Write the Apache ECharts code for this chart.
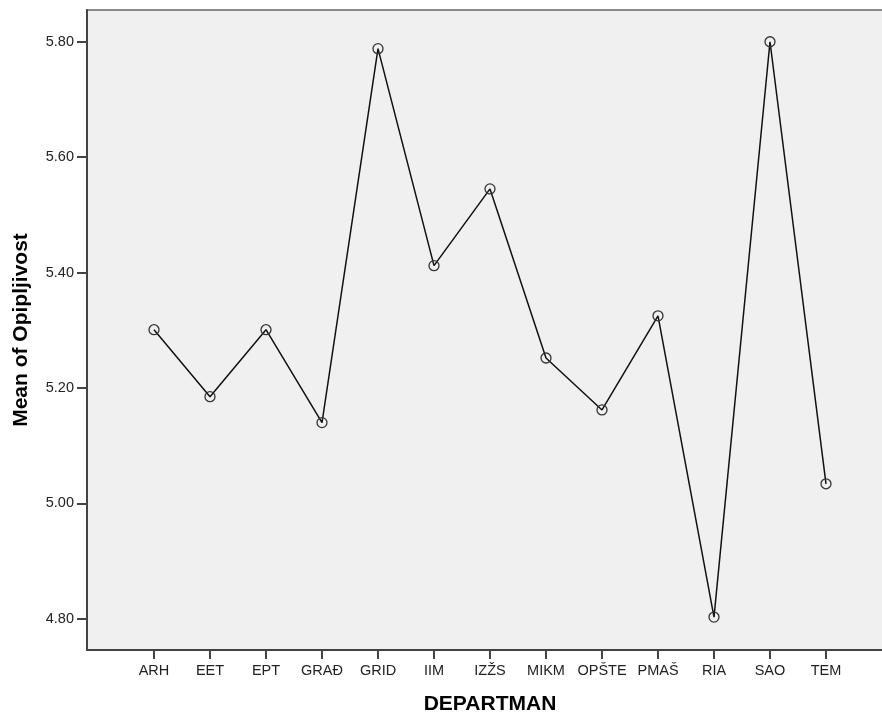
<!DOCTYPE html>
<html>
<head>
<meta charset="utf-8">
<script src="https://cdn.jsdelivr.net/npm/echarts@6/dist/echarts.min.js"></script>
<style>
  html, body { margin: 0; padding: 0; background: #ffffff; }
  #chart { width: 882px; height: 718px; }
</style>
</head>
<body>
<div id="chart"></div>
<script>
// Department codes along the x axis
const departments = ['ARH', 'EET', 'EPT', 'GRAĐ', 'GRID', 'IIM', 'IZŽS', 'MIKM', 'OPŠTE', 'PMAŠ', 'RIA', 'SAO', 'TEM'];
// Mean of Opipljivost per department
const meanValues = [5.301, 5.185, 5.301, 5.140, 5.788, 5.412, 5.545, 5.252, 5.162, 5.325, 4.803, 5.800, 5.034];
// Y tick values
const yTicks = [4.80, 5.00, 5.20, 5.40, 5.60, 5.80];

const xIdx = departments.map((_, i) => i);
const seriesData = meanValues.map((v, i) => [i, v]);

// plot box geometry: categories are 56px apart, first one 67px in from the left edge
const gridLeft = 87, gridRight = -3;
const plotWidth = 882 - gridLeft - gridRight;
const xMin = -67 / 56;
const xMax = xMin + plotWidth / 56;

const chart = echarts.init(document.getElementById('chart'), null, { renderer: 'canvas' });
const font = '"Liberation Sans", Arial, sans-serif';

chart.setOption({
  animation: false,
  grid: {
    left: gridLeft, top: 10, right: gridRight, bottom: 68,
    outerBoundsMode: 'none',
    containLabel: false,
    show: true, backgroundColor: '#f0f0f0', borderColor: '#8a8a8a', borderWidth: 2
  },
  xAxis: {
    type: 'value',
    min: xMin, max: xMax,
    name: 'DEPARTMAN',
    nameLocation: 'middle',
    nameGap: 44,
    nameTextStyle: { fontFamily: font, fontSize: 21, fontWeight: 'bold', color: '#000', padding: [0, 0, 0, 8] },
    splitLine: { show: false },
    axisLine: { show: true, onZero: false, lineStyle: { color: '#444', width: 2 } },
    axisTick: { show: true, customValues: xIdx, length: 9, lineStyle: { color: '#444', width: 2 } },
    axisLabel: {
      customValues: xIdx, margin: 13,
      fontFamily: font, fontSize: 14.5, color: '#222',
      formatter: v => departments[Math.round(v)]
    }
  },
  yAxis: {
    type: 'value',
    min: 4.746, max: 5.855,
    name: 'Mean of Opipljivost',
    nameLocation: 'middle',
    nameGap: 55,
    nameTextStyle: { fontFamily: font, fontSize: 21, fontWeight: 'bold', color: '#000' },
    splitLine: { show: false },
    axisLine: { show: true, onZero: false, lineStyle: { color: '#444', width: 2 } },
    axisTick: { show: true, customValues: yTicks, length: 10, lineStyle: { color: '#444', width: 2 } },
    axisLabel: {
      customValues: yTicks, margin: 13,
      fontFamily: font, fontSize: 14.5, color: '#222',
      formatter: v => v.toFixed(2)
    }
  },
  series: [{
    type: 'line',
    data: seriesData,
    symbol: 'circle',
    symbolSize: 10,
    lineStyle: { color: '#111', width: 1.5 },
    itemStyle: { color: 'rgba(0,0,0,0)', borderColor: '#333', borderWidth: 1.3 },
    z: 3
  }]
});
</script>
</body>
</html>
